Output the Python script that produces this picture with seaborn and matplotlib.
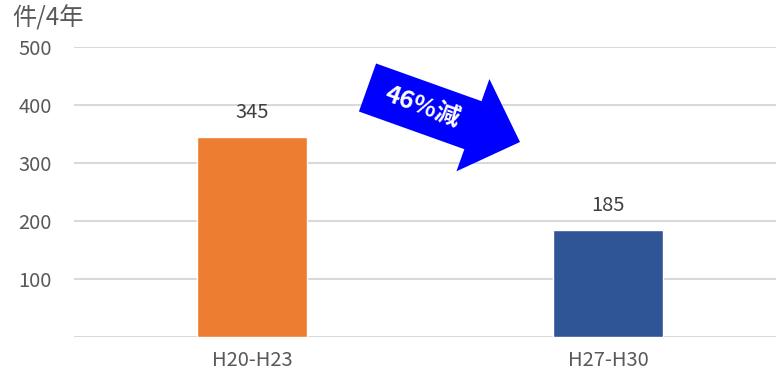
import matplotlib
matplotlib.use("Agg")
import matplotlib.pyplot as plt
import matplotlib.transforms as mtransforms
from matplotlib.patches import FancyArrow
import seaborn as sns

# chart data
periods = ["H20-H23", "H27-H30"]
counts = [345, 185]
bar_colors = ["#ED7D31", "#2F5597"]
y_ticks = [100, 200, 300, 400, 500]
unit_label = "件/4年"
arrow_label = "46%減"

sns.set_style("white")
plt.rcParams["font.family"] = ["Noto Sans CJK JP", "DejaVu Sans"]

fig = plt.figure(figsize=(7.76, 3.77), dpi=100)
ax = fig.add_axes([74 / 776, 40 / 377, 712 / 776, 290 / 377])

sns.barplot(x=periods, y=counts, hue=periods, palette=bar_colors,
            legend=False, width=0.31, saturation=1, ax=ax)

ax.set_xlim(-0.5, 1.5)
ax.set_ylim(0, 500)
ax.set_yticks([0] + y_ticks)
ax.set_yticklabels([""] + [str(t) for t in y_ticks])
ax.yaxis.grid(True, color="#D9D9D9", linewidth=1.5)
ax.set_axisbelow(True)
ax.tick_params(axis="y", length=0, pad=16, labelsize=14.5, labelcolor="#595959")
ax.tick_params(axis="x", length=0, pad=9, labelsize=14.5, labelcolor="#595959")
ax.set_xlabel("")
ax.set_ylabel("")
for s in ax.spines.values():
    s.set_visible(False)

# value labels
for i, v in enumerate(counts):
    ax.annotate(str(v), (i, v), xytext=(0, 10), textcoords="offset points",
                ha="center", va="bottom", fontsize=14.5, color="#404040")

# unit label
fig.text(12 / 776, 1 - 6 / 377, unit_label, ha="left", va="top",
         fontsize=17.5, color="#595959")

# decrease arrow (pixel coordinates)
px = mtransforms.IdentityTransform()
arrow = FancyArrow(367.5, 377 - 87.5, 152.5, -54.5, width=51, head_width=98,
                   head_length=50, length_includes_head=True,
                   color="#0000FF", linewidth=0, transform=px, clip_on=False)
fig.patches.append(arrow)
fig.text(422 / 776, 1 - 107 / 377, arrow_label, ha="center", va="center",
         rotation=-20, rotation_mode="anchor", fontsize=18, color="white",
         fontweight="bold")

fig.savefig("out.png", dpi=100)
